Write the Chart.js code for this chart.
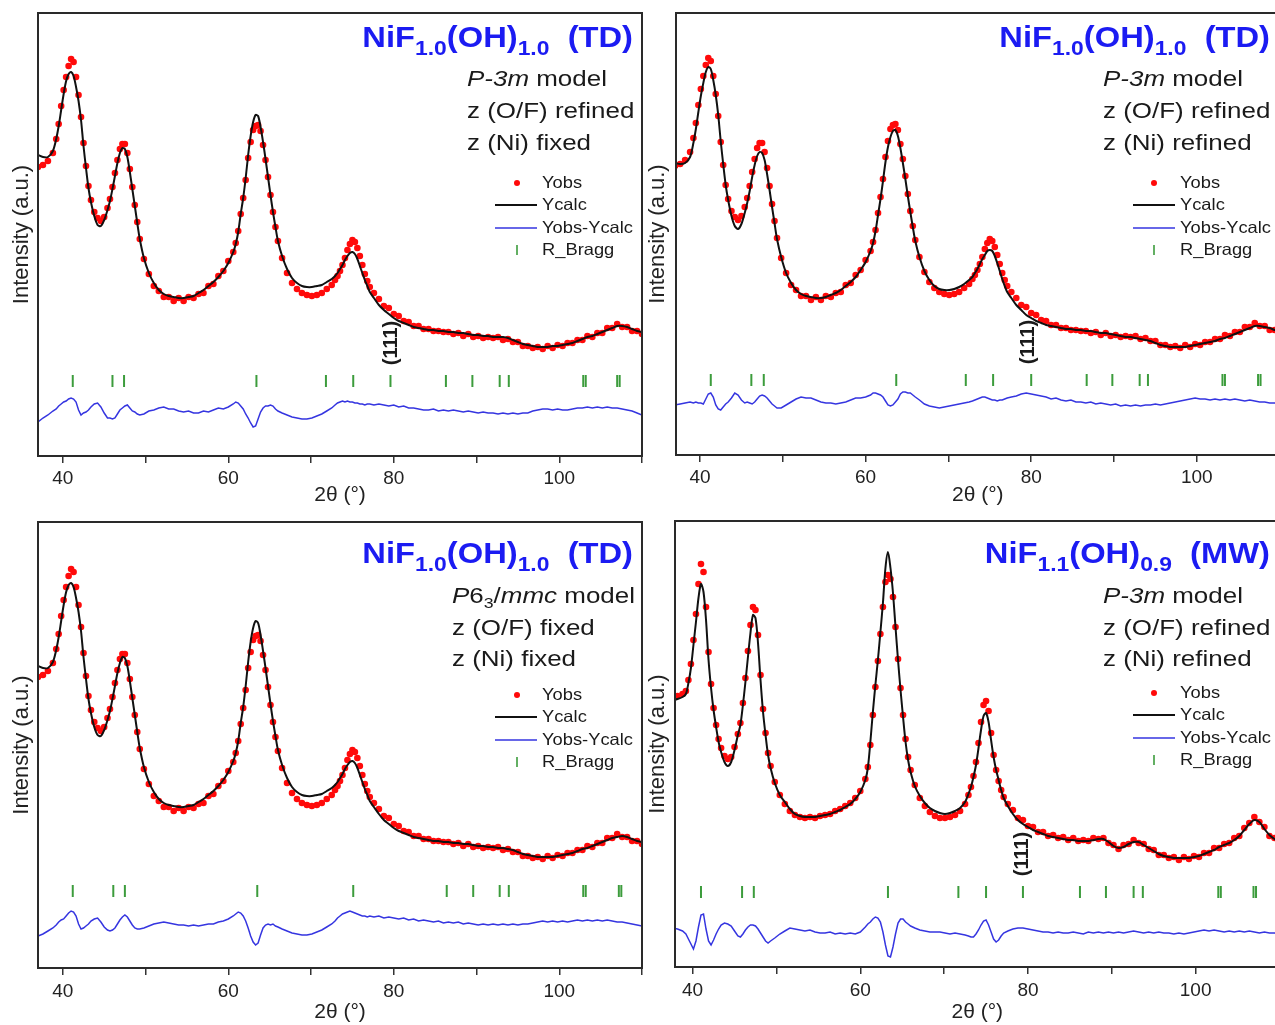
<!DOCTYPE html>
<html>
<head>
<meta charset="utf-8">
<title>NiF(OH) Rietveld</title>
<script src="https://cdn.jsdelivr.net/npm/chart.js@4.4.0/dist/chart.umd.min.js"></script>
<style>
  html, body { margin: 0; padding: 0; background: #fff; overflow: hidden; }
  body { width: 1275px; height: 1025px; position: relative; }
  canvas { position: absolute; }
</style>
</head>
<body>
<canvas id="tl" width="650" height="512" style="left:0;top:0"></canvas>
<canvas id="tr" width="650" height="512" style="left:640px;top:0"></canvas>
<canvas id="bl" width="650" height="515" style="left:0;top:510px"></canvas>
<canvas id="br" width="650" height="515" style="left:640px;top:510px"></canvas>
<script>
// 2theta sampling used by all four refinements (deg)
const twoTheta = [37.0, 37.6, 38.2, 38.8,
  39.2, 39.5, 39.8, 40.1, 40.4, 40.7, 41.0, 41.3, 41.6, 41.9, 42.2, 42.5, 42.8, 43.1, 43.4,
  43.8, 44.2, 44.6, 45.0, 45.4,
  45.7, 46.0, 46.3, 46.6, 46.9, 47.2, 47.5, 47.8, 48.1, 48.4, 48.7, 49.0, 49.3,
  49.8, 50.4, 51.0, 51.6, 52.2, 52.8, 53.4, 54.0, 54.6, 55.2, 55.8, 56.4, 57.0, 57.6, 58.2, 58.8, 59.4, 60.0, 60.6,
  60.9, 61.2, 61.5, 61.8, 62.1, 62.4, 62.7, 63.0, 63.3, 63.6, 63.9, 64.2, 64.5, 64.8, 65.1, 65.4, 65.7, 66.0,
  66.5, 67.1, 67.7, 68.3, 68.9, 69.5, 70.1, 70.7, 71.3, 71.9, 72.5,
  72.9, 73.2, 73.5, 73.8, 74.1, 74.4, 74.7, 75.0, 75.3, 75.6, 75.9, 76.2, 76.5, 76.8, 77.1,
  77.6, 78.2, 78.8, 79.4, 80.0, 80.6, 81.2, 81.8, 82.4, 83.0, 83.6, 84.2, 84.8, 85.4, 86.0, 86.6, 87.2, 87.8, 88.4, 89.0,
  89.6, 90.2, 90.8, 91.4, 92.0, 92.6, 93.2, 93.8, 94.4, 95.0, 95.6, 96.2, 96.8, 97.4, 98.0, 98.6, 99.2, 99.8, 100.4, 101.0,
  101.6, 102.2, 102.8, 103.4, 104.0, 104.6, 105.2, 105.8, 106.4, 107.0, 107.6, 108.2, 108.8, 109.4, 110.0];

// observed pattern, TD sample (same measurement in three refinements), a.u.
const obsTD = [289, 291, 295, 303,
  317, 332, 350, 366, 379, 390, 397, 394, 379, 361, 339, 313, 290, 270, 256,
  244, 238, 235, 239, 248,
  257, 269, 283, 296, 307, 312, 312, 303, 287, 269, 251, 234, 217,
  197, 182, 170, 165, 159, 159, 155, 158, 155, 159, 158, 162, 163, 170, 172, 180, 185, 195, 204,
  213, 225, 242, 258, 276, 298, 314, 326, 330, 331, 325, 311, 296, 279, 261, 244, 229, 215,
  198, 183, 173, 167, 163, 161, 160, 161, 163, 167, 171,
  176, 180, 185, 191, 198, 206, 212, 216, 214, 208, 200, 191, 182, 175, 169,
  163, 157, 150, 148, 142, 140, 135, 134, 130, 130, 127, 127, 125, 125, 124, 124, 122, 123, 120, 122,
  119, 120, 118, 119, 118, 119, 116, 117, 114, 114, 110, 110, 108, 109, 107, 110, 108, 111, 110, 113,
  113, 116, 116, 120, 119, 123, 123, 128, 128, 132, 129, 129, 125, 125, 122];

// observed pattern, MW sample
const obsMW = [270, 270, 271, 273,
  276, 287, 303, 327, 353, 383, 403, 395, 360, 315, 283, 259, 242, 228, 219,
  211, 208, 210, 220, 233,
  244, 264, 289, 316, 342, 360, 357, 332, 292, 258, 234, 214, 201,
  185, 172, 163, 156, 152, 150, 149, 150, 149, 151, 152, 153, 156, 158, 161, 164, 169, 176, 188,
  200, 222, 252, 280, 306, 333, 360, 385, 392, 388, 370, 340, 308, 279, 252, 228, 210, 197,
  182, 169, 161, 155, 151, 149, 149, 150, 152, 156, 163,
  172, 180, 191, 205, 224, 245, 262, 266, 256, 234, 212, 197, 186, 177, 170,
  163, 157, 149, 147, 141, 140, 135, 135, 131, 132, 129, 130, 127, 129, 126, 127, 126, 129, 128, 129,
  124, 122, 118, 122, 123, 127, 124, 123, 118, 117, 112, 112, 109, 110, 107, 110, 108, 111, 110, 114,
  114, 119, 119, 123, 124, 129, 131, 139, 144, 150, 145, 140, 131, 129, 123];

// calculated patterns
const calcTL = [301, 299, 299, 305,
  317, 330, 346, 362, 375, 382, 384, 380, 369, 355, 336, 310, 288, 268, 254,
  240, 231, 230, 236, 246,
  255, 267, 280, 293, 303, 308, 307, 299, 284, 267, 250, 233, 217,
  198, 183, 173, 166, 162, 160, 159, 158, 158, 159, 160, 163, 166, 170, 174, 179, 185, 193, 204,
  212, 224, 242, 258, 278, 301, 320, 334, 341, 340, 329, 314, 297, 279, 261, 244, 229, 215,
  200, 187, 178, 173, 170, 169, 169, 170, 171, 174, 177,
  180, 183, 187, 191, 196, 200, 203, 204, 202, 197, 190, 183, 176, 170, 164,
  158, 151, 146, 142, 138, 135, 133, 131, 129, 128, 127, 126, 126, 125, 125, 124, 124, 123, 123, 122,
  121, 121, 120, 120, 119, 119, 119, 118, 116, 114, 112, 111, 110, 109, 109, 109, 110, 110, 111, 112,
  113, 115, 117, 119, 120, 122, 124, 126, 128, 130, 130, 129, 127, 125, 124];

const calcTR = [292, 291, 292, 298,
  312, 326, 343, 359, 372, 383, 388, 386, 375, 360, 340, 314, 291, 270, 255,
  239, 229, 226, 231, 242,
  252, 264, 278, 290, 299, 303, 302, 295, 281, 265, 248, 232, 216,
  198, 182, 172, 165, 161, 159, 158, 157, 157, 158, 160, 162, 165, 169, 173, 178, 185, 193, 204,
  212, 224, 240, 256, 274, 293, 308, 318, 324, 325, 319, 307, 292, 276, 259, 243, 228, 214,
  198, 184, 175, 169, 166, 165, 165, 166, 168, 171, 175,
  178, 182, 186, 191, 196, 200, 204, 205, 204, 199, 192, 184, 176, 169, 163,
  157, 150, 145, 140, 137, 134, 132, 130, 129, 128, 127, 126, 126, 125, 125, 124, 124, 123, 122, 122,
  121, 120, 119, 118, 118, 117, 116, 115, 114, 112, 110, 109, 108, 108, 108, 108, 109, 110, 111, 112,
  113, 114, 116, 117, 119, 121, 123, 125, 127, 129, 129, 128, 127, 125, 124];

const calcBL = [300, 298, 298, 304,
  316, 329, 345, 361, 374, 381, 383, 379, 368, 354, 335, 309, 287, 267, 253,
  239, 231, 230, 236, 246,
  255, 267, 280, 293, 303, 309, 308, 300, 285, 268, 251, 234, 218,
  199, 184, 174, 167, 163, 161, 160, 159, 159, 160, 161, 164, 167, 171, 175, 180, 186, 194, 205,
  213, 225, 243, 259, 280, 304, 324, 338, 345, 343, 331, 315, 298, 280, 262, 245, 230, 216,
  201, 188, 179, 174, 171, 170, 170, 171, 172, 175, 178,
  181, 184, 188, 192, 197, 201, 204, 205, 203, 198, 191, 184, 177, 171, 165,
  159, 152, 146, 142, 138, 135, 133, 131, 129, 128, 127, 126, 125, 125, 124, 124, 123, 123, 122, 122,
  121, 120, 120, 119, 119, 118, 118, 117, 116, 114, 112, 111, 110, 109, 109, 109, 109, 110, 111, 112,
  113, 115, 117, 118, 120, 122, 124, 126, 128, 129, 130, 129, 127, 125, 124];

const calcBR = [267, 267, 268, 270,
  273, 284, 299, 322, 345, 369, 383, 375, 347, 307, 279, 257, 240, 225, 215,
  205, 201, 205, 217, 232,
  242, 262, 285, 310, 334, 352, 349, 324, 287, 255, 232, 212, 199,
  184, 172, 165, 158, 153, 151, 150, 150, 150, 151, 152, 153, 155, 157, 160, 163, 168, 175, 187,
  199, 225, 255, 282, 307, 335, 364, 399, 415, 399, 374, 340, 307, 277, 250, 225, 207, 195,
  181, 171, 164, 159, 156, 154, 153, 154, 156, 159, 165,
  173, 180, 190, 202, 219, 237, 251, 254, 245, 227, 210, 197, 187, 177, 169,
  161, 153, 147, 143, 140, 137, 135, 133, 131, 130, 129, 128, 127, 127, 126, 126, 126, 127, 128, 128,
  125, 121, 119, 120, 123, 125, 125, 122, 119, 116, 113, 111, 110, 109, 109, 109, 109, 110, 111, 113,
  115, 117, 120, 122, 124, 127, 131, 137, 143, 147, 145, 138, 132, 128, 125];

// difference curves (already offset below the patterns)
const diffTL = [34, 38, 41, 45,
  47, 50, 52, 54, 55, 57, 58, 57, 54, 46, 41, 43, 44, 46, 49,
  52, 53, 49, 43, 38,
  38, 37, 38, 42, 46, 48, 50, 51, 48, 45, 44, 42, 41,
  42, 45, 46, 48, 49, 47, 47, 45, 44, 45, 43, 43, 45, 44, 46, 48, 47, 49, 52,
  54, 53, 50, 47, 42, 38, 33, 29, 30, 37, 44, 48, 50, 50, 51, 50, 47, 45,
  43, 41, 39, 38, 37, 37, 38, 40, 42, 45, 48,
  51, 53, 54, 55, 54, 55, 54, 54, 53, 53, 52, 52, 51, 52, 52,
  51, 52, 51, 50, 51, 49, 50, 48, 48, 47, 46, 46, 47, 45, 46, 45, 46, 45, 44, 45,
  44, 43, 44, 43, 43, 42, 43, 42, 43, 42, 43, 43, 45, 46, 47, 47, 46, 47, 46, 46,
  47, 48, 48, 49, 48, 49, 48, 49, 48, 48, 47, 46, 45, 43, 41];

const diffTR = [50, 51, 52, 53,
  52, 53, 52, 52, 51, 56, 61, 62, 58, 50, 46, 45, 48, 51, 53,
  57, 62, 60, 55, 52,
  53, 52, 51, 53, 56, 59, 60, 59, 57, 54, 51, 49, 47,
  47, 50, 53, 56, 58, 57, 57, 55, 53, 52, 52, 51, 52, 53, 55, 57, 57, 58, 60,
  62, 62, 61, 60, 58, 54, 50, 49, 50, 53, 56, 61, 63, 63, 62, 62, 60, 58,
  55, 51, 49, 48, 47, 48, 49, 50, 51, 52, 53,
  54, 55, 56, 57, 58, 58, 57, 56, 55, 55, 54, 55, 55, 56, 57,
  58, 59, 61, 62, 61, 60, 59, 58, 56, 57, 55, 54, 55, 53, 53, 52, 53, 51, 52, 51,
  50, 51, 49, 50, 49, 50, 49, 50, 50, 51, 50, 51, 52, 53, 54, 55, 56, 57, 56, 56,
  55, 56, 55, 56, 55, 56, 55, 54, 55, 54, 53, 53, 52, 52, 51];

const diffBL = [30, 32, 35, 38,
  41, 44, 46, 47, 50, 53, 55, 54, 50, 42, 37, 38, 40, 42, 45,
  47, 48, 44, 39, 36,
  35, 36, 38, 42, 46, 49, 51, 49, 45, 41, 38, 37, 37,
  38, 40, 42, 43, 44, 43, 42, 41, 41, 40, 41, 40, 41, 42, 42, 44, 45, 47, 50,
  52, 54, 53, 50, 45, 38, 30, 24, 21, 23, 31, 38, 41, 42, 41, 42, 40, 39,
  37, 35, 33, 32, 31, 31, 32, 34, 36, 39, 42,
  45, 48, 50, 52, 53, 54, 55, 54, 53, 52, 51, 50, 50, 49, 50,
  49, 50, 48, 49, 48, 47, 48, 46, 47, 45, 46, 45, 44, 45, 43, 44, 43, 44, 42, 43,
  42, 41, 42, 41, 42, 41, 42, 41, 42, 41, 42, 42, 43, 44, 45, 44, 45, 44, 45, 44,
  45, 46, 45, 46, 45, 46, 45, 46, 45, 44, 44, 43, 42, 41, 40];

const diffBR = [39, 39, 38, 36,
  33, 28, 23, 18, 26, 40, 52, 53, 38, 26, 22, 27, 33, 38, 42,
  44, 43, 41, 36, 31,
  30, 33, 37, 40, 42, 42, 41, 38, 34, 30, 26, 24, 26,
  29, 33, 36, 39, 38, 37, 36, 37, 35, 34, 34, 35, 33, 34, 33, 34, 33, 35, 40,
  43, 45, 48, 50, 49, 45, 35, 22, 11, 10, 20, 33, 44, 48, 48, 45, 43, 41,
  39, 37, 36, 35, 35, 35, 34, 33, 34, 33, 32,
  31, 30, 30, 33, 37, 42, 46, 47, 42, 35, 28, 25, 27, 31, 34,
  36, 38, 39, 39, 38, 37, 36, 35, 35, 34, 35, 34, 34, 35, 34, 33, 35, 34, 35, 34,
  35, 34, 35, 34, 35, 36, 35, 34, 35, 34, 35, 34, 34, 33, 34, 33, 34, 35, 36, 37,
  36, 37, 36, 35, 36, 35, 36, 35, 36, 35, 34, 35, 34, 34, 33];

// Bragg reflection positions (deg)
const braggTL = [41.2, 46.0, 47.4, 63.4, 71.8, 75.1, 79.6, 86.3, 89.5, 92.8, 93.9, 102.9, 103.2, 107.0, 107.3];
const braggTR = [41.3, 46.2, 47.7, 63.7, 72.1, 75.4, 80.0, 86.7, 89.8, 93.1, 94.1, 103.1, 103.4, 107.4, 107.7];
const braggBL = [41.2, 46.1, 47.5, 63.5, 75.1, 86.4, 89.6, 92.8, 93.9, 102.9, 103.2, 107.2, 107.5];
const braggBR = [41.0, 45.9, 47.3, 63.3, 71.7, 75.0, 79.4, 86.2, 89.3, 92.6, 93.7, 102.7, 103.0, 106.9, 107.2];
const braggLevel = 75;

// x axis ticks
const xTicks = [40, 50, 60, 70, 80, 90, 100, 110];
const xTickLabels = [40, 60, 80, 100];

const FONT = "'Liberation Sans', Arial, sans-serif";

function pts(xs, ys) {
  return xs.map((x, i) => ({ x: x, y: ys[i] }));
}

function runFont(r) {
  return (r.i ? 'italic ' : '') + (r.b ? 'bold ' : '') + (r.s || 22) + 'px ' + FONT;
}

// draws a row of text pieces (sub/italic) with a horizontal stretch
function drawRuns(ctx, runs, x, y, sx, alignRight) {
  let w = 0;
  const widths = runs.map(r => { ctx.font = runFont(r); const m = ctx.measureText(r.t).width; w += m; return m; });
  ctx.save();
  ctx.translate(alignRight ? x - w * sx : x, y);
  ctx.scale(sx, 1);
  let cx = 0;
  runs.forEach((r, i) => { ctx.font = runFont(r); ctx.fillText(r.t, cx, r.dy || 0); cx += widths[i]; });
  ctx.restore();
}

function titleRuns(a, b, tag) {
  return [{ t: 'NiF', s: 30, b: 1 }, { t: a, s: 21, b: 1, dy: 8 }, { t: '(OH)', s: 30, b: 1 },
          { t: b, s: 21, b: 1, dy: 8 }, { t: '  (' + tag + ')', s: 30, b: 1 }];
}

const p3m = [{ t: 'P-3m', i: 1 }, { t: ' model' }];
const p63 = [{ t: 'P', i: 1 }, { t: '6' }, { t: '3', s: 15, dy: 5 }, { t: '/' }, { t: 'mmc', i: 1 }, { t: ' model' }];

const panels = [
  { id: 'tl', pad: [13, 7], yW: 38, xH: 56, xMin: 37.0, yMin: 0, yMax: 443, yTitlePad: 9, xTitlePad: 4, tickPad: 4,
    obs: obsTD, calc: calcTL, diff: diffTL, bragg: braggTL, hkl: 79.7,
    title: titleRuns('1.0', '1.0', 'TD'), titleX: 633, titleY: 47,
    lines: [p3m, [{ t: 'z (O/F) refined' }], [{ t: 'z (Ni) fixed' }]], textX: 467, lineY: [86, 118, 150],
    leg: { dot: 517, l0: 495, l1: 537, tx: 542, rows: [183, 205, 228, 250] } },
  { id: 'tr', pad: [13, 10.4], yW: 36, xH: 57, xMin: 37.1, yMin: 0, yMax: 442, yTitlePad: 5, xTitlePad: 4, tickPad: 4,
    obs: obsTD, calc: calcTR, diff: diffTR, bragg: braggTR, hkl: 79.7,
    title: titleRuns('1.0', '1.0', 'TD'), titleX: 630, titleY: 47,
    lines: [p3m, [{ t: 'z (O/F) refined' }], [{ t: 'z (Ni) refined' }]], textX: 463, lineY: [86, 118, 150],
    leg: { dot: 514, l0: 493, l1: 535, tx: 540, rows: [183, 205, 228, 250] } },
  { id: 'bl', pad: [12, 7], yW: 38, xH: 57, xMin: 37.0, yMin: -2, yMax: 444, yTitlePad: 9, xTitlePad: 0, tickPad: 5,
    obs: obsTD, calc: calcBL, diff: diffBL, bragg: braggBL, hkl: null,
    title: titleRuns('1.0', '1.0', 'TD'), titleX: 633, titleY: 53,
    lines: [p63, [{ t: 'z (O/F) fixed' }], [{ t: 'z (Ni) fixed' }]], textX: 452, lineY: [93, 125, 156],
    leg: { dot: 517, l0: 495, l1: 537, tx: 542, rows: [185, 207, 230, 252] } },
  { id: 'br', pad: [11, 10.5], yW: 35, xH: 58, xMin: 37.9, yMin: 0, yMax: 446, yTitlePad: 5, xTitlePad: 0, tickPad: 5,
    obs: obsMW, calc: calcBR, diff: diffBR, bragg: braggBR, hkl: 79.3,
    title: titleRuns('1.1', '0.9', 'MW'), titleX: 630, titleY: 53,
    lines: [p3m, [{ t: 'z (O/F) refined' }], [{ t: 'z (Ni) refined' }]], textX: 463, lineY: [93, 125, 156],
    leg: { dot: 514, l0: 493, l1: 535, tx: 540, rows: [183, 205, 228, 250] } }
];

function annotator(p) {
  return {
    id: 'annot_' + p.id,
    afterDraw(chart) {
      const { ctx, chartArea: a } = chart;
      const ds = chart.data.datasets;
      ctx.save();
      // frame
      ctx.strokeStyle = '#2a2a2a';
      ctx.lineWidth = 2;
      ctx.strokeRect(a.left, a.top, a.right - a.left, a.bottom - a.top);
      // sample name + model notes
      ctx.textBaseline = 'alphabetic';
      ctx.fillStyle = '#1b1bf2';
      drawRuns(ctx, p.title, p.titleX, p.titleY, 1.09, true);
      ctx.fillStyle = '#1a1a1a';
      p.lines.forEach((ln, i) => drawRuns(ctx, ln, p.textX, p.lineY[i], 1.18, false));
      // legend
      const L = p.leg;
      ctx.fillStyle = ds[0].pointBackgroundColor;
      ctx.beginPath();
      ctx.arc(L.dot, L.rows[0], 3, 0, Math.PI * 2);
      ctx.fill();
      ctx.lineWidth = ds[1].borderWidth;
      ctx.strokeStyle = ds[1].borderColor;
      ctx.beginPath(); ctx.moveTo(L.l0, L.rows[1]); ctx.lineTo(L.l1, L.rows[1]); ctx.stroke();
      ctx.lineWidth = ds[2].borderWidth;
      ctx.strokeStyle = ds[2].borderColor;
      ctx.beginPath(); ctx.moveTo(L.l0, L.rows[2]); ctx.lineTo(L.l1, L.rows[2]); ctx.stroke();
      ctx.lineWidth = 1.6;
      ctx.strokeStyle = ds[3].pointBorderColor;
      ctx.beginPath(); ctx.moveTo(L.dot, L.rows[3] - 5); ctx.lineTo(L.dot, L.rows[3] + 5); ctx.stroke();
      ctx.fillStyle = '#1a1a1a';
      ctx.textBaseline = 'middle';
      ds.forEach((d, i) => drawRuns(ctx, [{ t: d.label, s: 16.5 }], L.tx, L.rows[i], 1.11, false));
      // (111) reflection label
      if (p.hkl) {
        const x = chart.scales.x.getPixelForValue(p.hkl);
        const y = chart.scales.y.getPixelForValue(113);
        ctx.translate(x, y);
        ctx.rotate(-Math.PI / 2);
        ctx.font = 'bold 20px ' + FONT;
        ctx.textAlign = 'center';
        ctx.textBaseline = 'middle';
        ctx.fillText('(111)', 0, 0);
      }
      ctx.restore();
    }
  };
}

function makeChart(p) {
  new Chart(document.getElementById(p.id), {
    type: 'scatter',
    data: {
      datasets: [
        { label: 'Yobs', data: pts(twoTheta, p.obs), showLine: false, pointRadius: 3.3,
          pointBackgroundColor: '#ff0a0a', pointBorderWidth: 0, clip: 0, order: 3 },
        { label: 'Ycalc', data: pts(twoTheta, p.calc), showLine: true, borderColor: '#111111',
          borderWidth: 2, pointRadius: 0, tension: 0.3, clip: 0, order: 1 },
        { label: 'Yobs-Ycalc', data: pts(twoTheta, p.diff), showLine: true, borderColor: '#3535e0',
          borderWidth: 1.5, pointRadius: 0, tension: 0, clip: 0, order: 4 },
        { label: 'R_Bragg', data: p.bragg.map(v => ({ x: v, y: braggLevel })), showLine: false,
          pointStyle: 'line', pointRotation: 90, pointRadius: 6, pointBorderColor: '#3c9c3c',
          pointBorderWidth: 2, order: 2 }
      ]
    },
    options: {
      responsive: false,
      animation: false,
      devicePixelRatio: 1,
      events: [],
      layout: { padding: { left: 0, top: p.pad[0], right: p.pad[1], bottom: 0 } },
      plugins: { legend: { display: false }, tooltip: { enabled: false } },
      scales: {
        x: {
          type: 'linear',
          min: p.xMin,
          max: 110,
          afterBuildTicks: s => { s.ticks = xTicks.map(v => ({ value: v })); },
          afterFit: s => { s.height = p.xH; },
          ticks: {
            autoSkip: false, maxRotation: 0, padding: p.tickPad, color: '#222',
            font: { family: FONT, size: 19 },
            callback: v => (xTickLabels.includes(v) ? String(v) : '')
          },
          grid: { drawOnChartArea: false, drawTicks: true, tickLength: 7, color: '#333', lineWidth: 1.5 },
          border: { display: false },
          title: { display: true, text: '2θ (°)', color: '#222', font: { family: FONT, size: 21 },
                   padding: { top: 0, bottom: p.xTitlePad } }
        },
        y: {
          min: p.yMin,
          max: p.yMax,
          afterFit: s => { s.width = p.yW; },
          ticks: { display: false },
          grid: { display: false },
          border: { display: false },
          title: { display: true, text: 'Intensity (a.u.)', color: '#222', font: { family: FONT, size: 22 },
                   padding: { top: p.yTitlePad, bottom: 0 } }
        }
      }
    },
    plugins: [annotator(p)]
  });
}

panels.forEach(makeChart);
</script>
</body>
</html>
